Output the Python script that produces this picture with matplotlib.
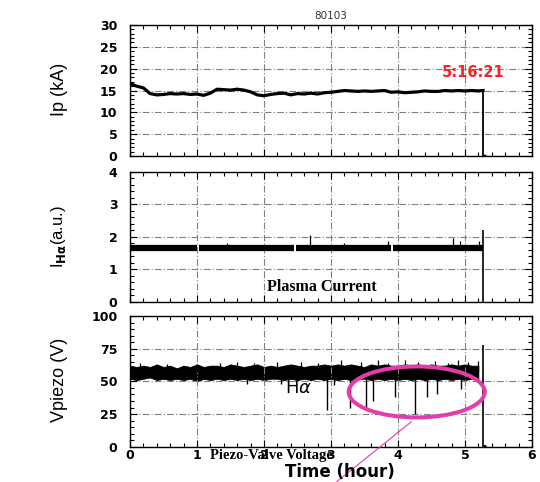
import numpy as np
import matplotlib
matplotlib.use("Agg")
import matplotlib.pyplot as plt
from matplotlib.patches import Ellipse
from matplotlib.ticker import MultipleLocator

# ── Data ──────────────────────────────────────────────────────────────────────
SHOT = "80103"
END_LABEL = "5:16:21"
T_END = 5.27                      # hours, end of discharge

# plasma current, sampled every 0.1 h from 0.0 to 5.2
ip_t = np.round(np.arange(0.0, 5.21, 0.1), 2)
ip_kA = [16.6, 16.0, 15.6, 14.3, 14.0, 14.1, 14.3, 14.2, 14.3, 14.1,
         14.2, 13.9, 14.4, 15.3, 15.2, 15.1, 15.3, 15.1, 14.7, 14.0,
         13.8, 14.1, 14.3, 14.4, 14.0, 14.3, 14.2, 14.4, 14.2, 14.5,
         14.6, 14.8, 15.0, 14.9, 14.8, 14.9, 14.8, 14.9, 15.0, 14.6,
         14.7, 14.5, 14.6, 14.7, 14.9, 14.8, 14.8, 15.0, 14.9, 15.0,
         14.9, 15.0, 14.9]
ip_last = 15.0

# H-alpha intensity: continuous segments and spikes
ha_seg_start = [0.0, 1.03, 2.48, 3.93]
ha_seg_end = [1.00, 2.45, 3.89, 5.27]
ha_level = 1.66
ha_spike_t = [2.69, 3.85, 4.82, 4.93, 5.21, 1.45, 3.2]
ha_spike_top = [2.05, 1.86, 1.95, 1.88, 1.86, 1.80, 1.82]
ha_final_top = 2.2

# piezo valve voltage: noise envelope every 0.1 h, plus spikes
vp_hi = [62, 61, 62, 61, 63, 61, 62, 60, 62, 61, 63,
         61, 62, 62, 61, 63, 62, 61, 62, 63, 61,
         62, 61, 62, 63, 62, 61, 62, 62, 63, 62,
         63, 62, 63, 62, 61, 63, 62, 63, 62, 62,
         63, 62, 63, 62, 63, 62, 62, 63, 62, 63,
         62, 62]
vp_lo = [52, 51, 52, 53, 51, 52, 51, 52, 51, 52, 50,
         52, 51, 52, 51, 52, 51, 52, 51, 52, 51,
         52, 52, 51, 52, 51, 52, 51, 52, 51, 52,
         51, 52, 51, 52, 52, 51, 52, 51, 52, 51,
         52, 51, 52, 51, 52, 51, 52, 51, 52, 51,
         52, 51]
vp_up_t = [0.15, 0.55, 1.0, 1.35, 1.6, 1.85, 2.2, 2.55, 2.8, 3.15,
           3.45, 3.7, 3.85, 4.1, 4.3, 4.55, 4.75, 4.9, 5.05, 5.2]
vp_up_top = [64, 63.5, 63, 64, 65, 64, 64.5, 65, 64, 66,
             65, 66, 64, 66, 65, 65.5, 64, 66, 65, 65.5]
vp_dn_t = [1.75, 2.25, 2.94, 3.05, 3.29, 3.53, 3.62, 3.96, 4.25, 4.43, 4.59, 4.94]
vp_dn_bot = [48, 48, 27.8, 47, 30, 28.6, 35, 38, 25.3, 38, 40.6, 44]
vp_final_top = 78

# ── Style ─────────────────────────────────────────────────────────────────────
TICK_FONT = dict(family="DejaVu Sans", weight="bold", size=9)
LABEL_FAM = ["Liberation Sans", "DejaVu Sans"]
MAGENTA = "#e43caa"
GRID_KW = dict(color="0.5", linestyle=(0, (6, 2, 1, 2)), linewidth=0.8)

plt.rcParams["mathtext.fontset"] = "dejavusans"

fig = plt.figure(figsize=(5.4, 4.82), dpi=100)
L, W = 0.2407, 0.7444
ax1 = fig.add_axes([L, 0.6763, W, 0.2718])
ax2 = fig.add_axes([L, 0.3740, W, 0.2697])
ax3 = fig.add_axes([L, 0.0732, W, 0.2712])

def style(ax, ymax, ymaj, ymin, show_x):
    ax.set_xlim(0, 6)
    ax.set_ylim(0, ymax)
    ax.xaxis.set_major_locator(MultipleLocator(1))
    ax.xaxis.set_minor_locator(MultipleLocator(0.2))
    ax.yaxis.set_major_locator(MultipleLocator(ymaj))
    ax.yaxis.set_minor_locator(MultipleLocator(ymin))
    ax.tick_params(which="both", direction="in", top=True, right=True, width=0.8)
    ax.tick_params(which="major", length=5)
    ax.tick_params(which="minor", length=3)
    ax.tick_params(axis="y", pad=9)
    ax.tick_params(axis="x", pad=2, labelbottom=show_x)
    for lab in ax.get_xticklabels() + ax.get_yticklabels():
        lab.set_fontproperties(matplotlib.font_manager.FontProperties(**TICK_FONT))
    ax.grid(True, which="major", **GRID_KW)
    for s in ax.spines.values():
        s.set_linewidth(1.0)

# ── Top: plasma current ───────────────────────────────────────────────────────
ax1.plot(list(ip_t) + [T_END], ip_kA + [ip_last], color="black", lw=2.3)
ax1.vlines([T_END], 0, ip_last, color="black", lw=1.3)
ax1.hlines([0], T_END, T_END + 0.05, color="black", lw=2.5)
style(ax1, 30, 5, 1, False)
ax1.text(4.65, 19.1, END_LABEL, color="#ff2020", fontsize=10.5,
         fontweight="bold", va="center", ha="left")
ax1.set_title(SHOT, fontsize=7.5, color="#333333", pad=4)

# ── Middle: H-alpha ───────────────────────────────────────────────────────────
ax2.hlines([ha_level] * len(ha_seg_start), ha_seg_start, ha_seg_end,
           color="black", lw=4.5)
ax2.vlines(ha_spike_t, ha_level, ha_spike_top, color="black", lw=0.9)
ax2.vlines([T_END], 0, ha_final_top, color="black", lw=1.2)
style(ax2, 4, 1, 0.2, False)
ax2.text(2.05, 0.45, "Plasma Current", family="Liberation Serif",
         fontweight="bold", fontsize=11.5, va="center", ha="left")

# ── Bottom: piezo valve voltage ───────────────────────────────────────────────
vp_t = np.round(np.arange(0.0, 5.21, 0.1), 2)
ax3.fill_between(vp_t, vp_lo, vp_hi, color="black", lw=0.6, edgecolor="black")
ax3.vlines(vp_up_t, 57, vp_up_top, color="black", lw=0.9)
ax3.vlines(vp_dn_t, vp_dn_bot, 55, color="black", lw=1.0)
ax3.vlines([T_END], 0, vp_final_top, color="black", lw=1.2)
ax3.hlines([0.8], T_END, T_END + 0.05, color="black", lw=2)
style(ax3, 100, 25, 5, True)
ax3.text(2.32, 44.6, r"H$\alpha$", fontsize=13, va="center", ha="left")
# this caption sits over the 2 and 3 tick labels in the original
ax3.text(1.2, -6.4, "Piezo-Valve Voltage", family="Liberation Serif",
         fontweight="bold", fontsize=10.5, va="center", ha="left", clip_on=False)

ell = Ellipse((4.28, 41.9), 2.03, 39, fill=False, edgecolor=MAGENTA, lw=2.9,
              zorder=5)
ax3.add_patch(ell)
ax3.plot([4.20, 3.085], [19.1, -26.8], color=MAGENTA, lw=0.8, clip_on=False,
         zorder=5)

# ── Axis labels ───────────────────────────────────────────────────────────────
fig.text(59 / 540, 1 - 89 / 482, "Ip (kA)", rotation=90, ha="center",
         va="center", family=LABEL_FAM, fontsize=13)
fig.text(59 / 540, 1 - 237 / 482, r"I$_{\mathbf{H\alpha}}$(a.u.)", rotation=90,
         ha="center", va="center", family=LABEL_FAM, fontsize=12)
fig.text(59 / 540, 1 - 380 / 482, "Vpiezo (V)", rotation=90, ha="center",
         va="center", family=LABEL_FAM, fontsize=13)
fig.text(340 / 540, 1 - 472 / 482, "Time (hour)", ha="center", va="center",
         family="DejaVu Sans", fontweight="bold", fontsize=12)

fig.savefig("out.png", dpi=100)
